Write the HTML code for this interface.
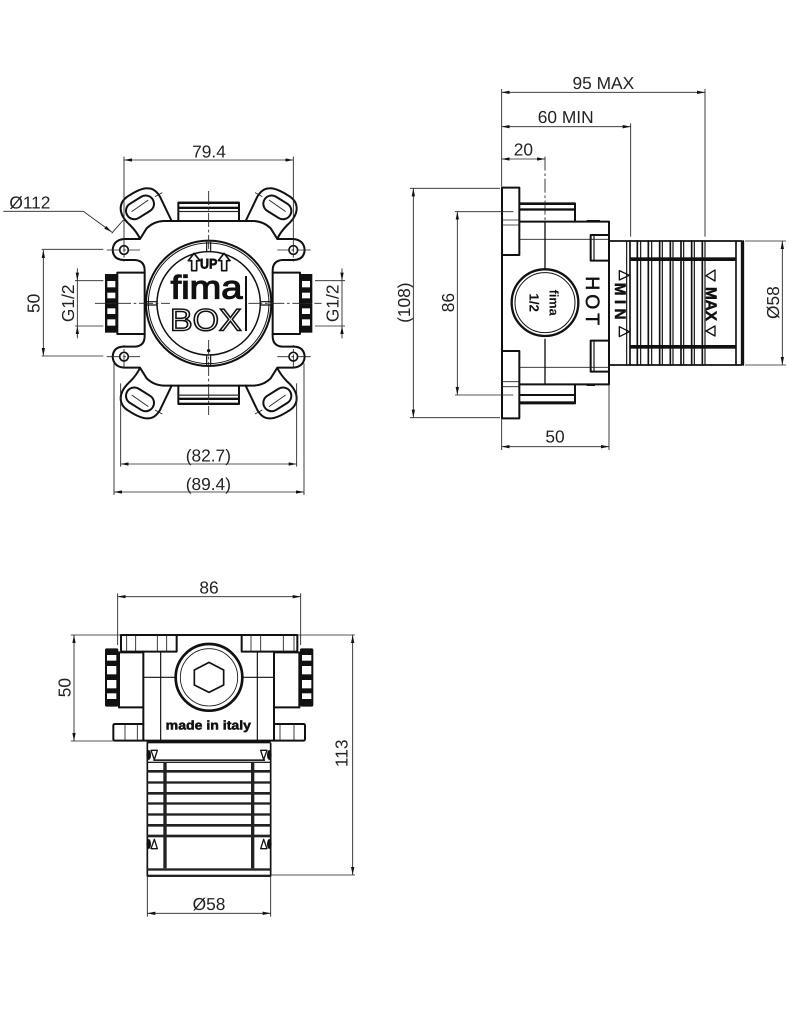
<!DOCTYPE html>
<html>
<head>
<meta charset="utf-8">
<style>
html,body{margin:0;padding:0;background:#fff}
svg{display:block}
text{font-family:"Liberation Sans",sans-serif;fill:#222;font-size:52px;text-rendering:geometricPrecision}
.m{text-anchor:middle}
.s{fill:none;stroke:#111;stroke-width:6;stroke-linejoin:round;stroke-linecap:round}
.n{fill:none;stroke:#111;stroke-width:3.5;stroke-linejoin:round}
.t{fill:none;stroke:#222;stroke-width:2.6}
.w{fill:#fff;stroke:#111;stroke-width:5;stroke-linejoin:round}
.k{fill:#111;stroke:none}
.c{fill:none;stroke:#222;stroke-width:2.6;stroke-dasharray:42 8 8 8}
.d{fill:none;stroke:#222;stroke-width:2.6;marker-start:url(#a);marker-end:url(#a)}
.e{fill:none;stroke:#222;stroke-width:2.6;marker-end:url(#a)}
</style>
</head>
<body>
<svg width="807" height="1024" viewBox="0 0 807 1024" xmlns="http://www.w3.org/2000/svg">
<defs>
<marker id="a" markerUnits="userSpaceOnUse" viewBox="0 0 24 10" refX="24" refY="5" markerWidth="24" markerHeight="10" orient="auto-start-reverse">
<path d="M0 0L24 5L0 10Z" fill="#111"/>
</marker>
<g id="q">
<path class="s" d="M626 243H490Q460 245 440 265L420 297H372Q340 300 338 330Q340 360 372 360H405Q434 362 434 392V490"/>
<path class="s" d="M515 243L480 170Q465 145 445 145Q425 143 390 165Q362 180 362 205Q362 230 390 255Q410 275 420 296"/>
<rect class="s" x="375" y="177" width="90" height="50" rx="25" transform="rotate(-32 420 202)"/>
<path class="t" d="M395 215L445 180M465 170L487 158"/>
<circle class="s" cx="372" cy="330" r="13" style="stroke-width:5"/>
<path class="c" d="M320 330H420M372 295V365"/>
<path class="s" d="M434 398H352V490"/>
<rect class="k" x="315" y="402" width="36" height="88"/>
<rect fill="#fff" x="322" y="423" width="24" height="19"/>
<rect fill="#fff" x="322" y="458" width="24" height="17"/>
<path class="s" d="M626 188H535V243"/>
<rect class="k" x="535" y="185" width="91" height="7"/>
<rect class="k" x="535" y="200" width="91" height="7"/>
<rect class="t" x="535" y="214" width="91" height="1"/>
<path class="t" d="M621 305V335M440 485H470M440 495H470"/>
</g>
<g id="nut">
<rect class="k" x="0" y="0" width="40" height="175" rx="5"/>
<rect fill="#fff" x="6" y="20" width="28" height="17"/>
<rect fill="#fff" x="6" y="53" width="28" height="25"/>
<rect fill="#fff" x="6" y="95" width="28" height="25"/>
<rect fill="#fff" x="6" y="135" width="28" height="17"/>
</g>
<g id="clip">
<ellipse cx="296" cy="0" rx="7" ry="15" class="k"/>
<path class="n" d="M303 14H322L313 -14Z" style="stroke-width:4"/>
</g>
</defs>
<rect width="807" height="1024" fill="#fff"/>

<!-- FRONT VIEW -->
<g transform="translate(0,140) scale(.33333)">
<use href="#q"/>
<use href="#q" transform="matrix(-1 0 0 1 1252 0)"/>
<use href="#q" transform="matrix(1 0 0 -1 0 980)"/>
<use href="#q" transform="matrix(-1 0 0 -1 1252 980)"/>
<circle cx="626" cy="490" r="188" fill="#fff" stroke="#111" stroke-width="6"/>
<circle cx="626" cy="490" r="181" fill="none" stroke="#111" stroke-width="3"/>
<circle cx="626" cy="490" r="155" fill="none" stroke="#111" stroke-width="4.5"/>
<path class="n" d="M620 305V335M632 305V335M620 645V675M632 645V675M440 485H470M440 495H470M782 485H812M782 495H812"/>
<path class="c" d="M626 153V335M626 600V825M285 490H510M745 490H965"/>
<circle cx="626" cy="632" r="5" class="k"/>
<path class="w" d="M582 340L600 362H590V392H575V362H565Z" style="stroke-width:5"/>
<path class="w" d="M672 340L690 362H680V392H665V362H655Z" style="stroke-width:5"/>
<text x="626" y="385" class="m" textLength="52" lengthAdjust="spacingAndGlyphs" style="font-size:42px;font-weight:bold;fill:#111;stroke:#111;stroke-width:2">UP</text>
<text x="512" y="475" textLength="215" lengthAdjust="spacingAndGlyphs" style="font-size:98px;fill:#111;stroke:#111;stroke-width:3.5">fima</text>
<text x="510" y="571" textLength="215" lengthAdjust="spacingAndGlyphs" style="font-size:93px;fill:#fff;stroke:#111;stroke-width:4.5">BOX</text>
<rect class="k" x="735" y="408" width="6" height="165"/>
<path class="t" d="M372 50V300M880 50V300M125 328H310M125 648H310M225 422H310M225 558H310M945 422H1035M945 558H1035M362 730V980M890 730V980M342 670V1065M912 670V1065M335 280L370 240"/>
<path class="d" d="M372 60H880"/>
<path class="d" d="M130 330V648"/>
<path class="t" d="M232 385V595M1026 385V595"/>
<path class="k" d="M232 422L227 398H237ZM232 558L227 582H237ZM1026 422L1021 398H1031ZM1026 558L1021 582H1031Z"/>
<path class="d" d="M362 972H890"/>
<path class="d" d="M342 1056H912"/>
<path class="e" d="M10 214H250L335 276"/>
<text x="627" y="52" class="m">79.4</text>
<text x="28" y="206">Ø112</text>
<text class="m" transform="translate(118,490) rotate(-90)">50</text>
<text class="m" transform="translate(222,490) rotate(-90)">G1/2</text>
<text class="m" transform="translate(1016,490) rotate(-90)">G1/2</text>
<text x="625" y="965" class="m">(82.7)</text>
<text x="625" y="1050" class="m">(89.4)</text>
</g>

<!-- SIDE VIEW -->
<g transform="translate(400,70) scale(.33333)">
<path class="s" d="M360 400H525V455M360 1000H525V943"/>
<rect class="k" x="360" y="398" width="165" height="7"/>
<rect class="k" x="360" y="415" width="165" height="7"/>
<rect class="k" x="360" y="972" width="165" height="6"/>
<rect class="k" x="360" y="994" width="165" height="6"/>
<path class="s" d="M358 455H627V943H358"/>
<rect class="k" x="560" y="450" width="40" height="5"/>
<rect class="k" x="560" y="943" width="25" height="5"/>
<path class="s" d="M306 353H358V555H306M306 1045H358V843H306M306 353V1045"/>
<path class="t" d="M306 450H358M306 465H358M306 935H358M306 950H358"/>
<path class="t" d="M358 508H572M358 892H572"/>
<rect class="s" x="572" y="495" width="55" height="77"/>
<rect class="s" x="572" y="812" width="55" height="93"/>
<path class="n" d="M582 495V572M582 812V905"/>
<path class="t" d="M572 508H627M572 892H627"/>
<path class="s" d="M630 513H1025V885H630M1008 513V885M1030 513V885" style="stroke-width:5"/>
<rect class="k" x="690" y="562" width="318" height="11"/>
<rect class="k" x="690" y="825" width="318" height="11"/>
<path class="n" d="M680 513V885M722 513V885M755 513V885M787 513V885M819 513V885M851 513V885M883 513V885M915 513V885"/>
<path class="s" d="M690 513V885M712 513V885M745 513V885M779 513V885M811 513V885M843 513V885M875 513V885M907 513V885" style="stroke-width:5"/>
<path class="s" d="M435 455V600M435 808V943" style="stroke-width:4"/>
<path class="c" d="M435 260V455"/>
<circle cx="435" cy="698" r="100" fill="#fff" stroke="#111" stroke-width="7"/>
<circle cx="435" cy="698" r="90" fill="#fff" stroke="#111" stroke-width="3"/>
<text class="m" transform="translate(448,698) rotate(90)" style="font-size:38px;font-weight:bold;fill:#111">fima</text>
<text class="m" transform="translate(388,698) rotate(90)" style="font-size:40px;font-weight:bold;fill:#111">1/2</text>
<text class="m" transform="translate(558,698) rotate(90)" style="font-size:58px;letter-spacing:12px;fill:#111;stroke:#111;stroke-width:1.5">HOT</text>
<text class="m" transform="translate(645,700) rotate(90)" style="font-size:46px;letter-spacing:13px;font-weight:bold;fill:#111;stroke:#111;stroke-width:1.5">MIN</text>
<text class="m" transform="translate(918,702) rotate(90)" style="font-size:46px;font-weight:bold;fill:#111;stroke:#111;stroke-width:1.5">MAX</text>
<path class="n" d="M658 602V630L688 616ZM658 770V800L688 785Z" style="stroke-width:4"/>
<path class="n" d="M945 600V633L918 617ZM945 768V798L918 783Z" style="stroke-width:4"/>
<path class="t" d="M305 57V350M915 57V500M692 160V500M30 355H300M30 1043H300M165 425H340M165 975H340M305 1045V1140M627 945V1140M1035 513H1158M1035 885H1158"/>
<path class="d" d="M305 67H915"/>
<path class="d" d="M305 170H692"/>
<path class="d" d="M305 267H435"/>
<path class="d" d="M40 355V1043"/>
<path class="d" d="M172 425V975"/>
<path class="d" d="M305 1130H627"/>
<path class="d" d="M1147 513V885"/>
<text x="610" y="57" class="m">95 MAX</text>
<text x="497" y="159" class="m">60 MIN</text>
<text x="370" y="257" class="m">20</text>
<text x="465" y="1118" class="m">50</text>
<text class="m" transform="translate(30,698) rotate(-90)">(108)</text>
<text class="m" transform="translate(162,698) rotate(-90)">86</text>
<text class="m" transform="translate(1137,698) rotate(-90)">Ø58</text>
</g>

<!-- BOTTOM VIEW -->
<g transform="translate(50,575) scale(.33333)">
<path class="s" d="M380 180H575M213 180H742V225Q742 230 737 230H575V180M380 180V230H218Q213 230 213 225V180"/>
<path class="t" d="M230 180V230M257 180V230M322 180V230M350 180V230M603 180V230M632 180V230M700 180V230M732 180V230"/>
<path class="s" d="M280 230V497H672V230M207 397H280M672 397H748M207 232H280M672 232H748"/>
<path class="s" d="M207 232V397M748 232V397"/>
<use href="#nut" transform="translate(165,220)"/>
<use href="#nut" transform="translate(750,220)"/>
<path class="s" d="M280 447H195Q190 447 190 452V492Q190 497 195 497H280M672 447H760Q765 447 765 452V492Q765 497 760 497H672"/>
<path class="t" d="M225 447V497M262 447V497M690 447V497M732 447V497"/>
<path class="n" d="M332 230V497M622 230V497M280 307H378M576 307H672"/>
<circle cx="477" cy="307" r="100" fill="#fff" stroke="#111" stroke-width="8"/>
<circle cx="477" cy="307" r="86" fill="none" stroke="#111" stroke-width="2.5"/>
<path class="n" d="M477 262L521 285V330L477 352L433 330V285Z" style="stroke-width:5"/>
<text x="347" y="463" textLength="256" lengthAdjust="spacingAndGlyphs" style="font-size:38px;font-weight:bold;fill:#111;stroke:#111;stroke-width:1.5">made in italy</text>
<rect class="k" x="290" y="495" width="372" height="10"/>
<path class="s" d="M292 505V902M662 505V902M292 903H662" style="stroke-width:5"/>
<g fill="#222">
<rect x="292" y="880" width="370" height="7"/>
<rect x="292" y="899" width="370" height="7"/>
<rect x="310" y="553" width="335" height="5"/>
<rect x="292" y="560" width="370" height="4"/>
<rect x="292" y="585" width="370" height="8"/>
<rect x="292" y="619" width="370" height="7"/>
<rect x="292" y="651" width="370" height="8"/>
<rect x="292" y="682" width="370" height="7"/>
<rect x="292" y="715" width="370" height="7"/>
<rect x="292" y="747" width="370" height="8"/>
<rect x="292" y="779" width="370" height="8"/>
<rect x="340" y="563" width="10" height="317"/>
<rect x="603" y="563" width="10" height="317"/>
</g>
<use href="#clip" transform="translate(0,540) scale(1,-1)"/>
<use href="#clip" transform="translate(954,540) scale(-1,-1)"/>
<use href="#clip" transform="translate(0,807)"/>
<use href="#clip" transform="translate(954,807) scale(-1,1)"/>
<path class="t" d="M203 55V210M752 55V210M62 180H210M745 180H915M62 498H190M665 900H915M292 905V1025M662 905V1025"/>
<path class="d" d="M203 65H752"/>
<path class="d" d="M72 180V498"/>
<path class="d" d="M908 180V900"/>
<path class="d" d="M292 1015H662"/>
<text x="477" y="55" class="m">86</text>
<text class="m" transform="translate(62,338) rotate(-90)">50</text>
<text class="m" transform="translate(892,535) rotate(-90)">113</text>
<text x="477" y="1005" class="m">Ø58</text>
</g>
</svg>
</body>
</html>
